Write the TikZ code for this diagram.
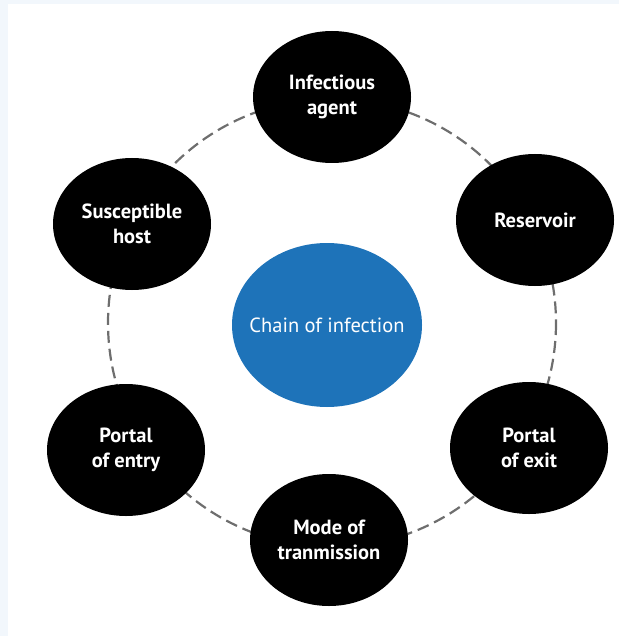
\documentclass[tikz,border=0pt]{standalone}
\usepackage{fontspec}
\setmainfont{PT Sans}
\usetikzlibrary{shapes.geometric}

\definecolor{chainblue}{RGB}{30,115,185}
\definecolor{ringgray}{RGB}{110,110,110}
\definecolor{edgeband}{RGB}{242,247,252}

\begin{document}
\begin{tikzpicture}[x=1pt, y=-1pt,
  stage/.style={ellipse, fill=black, text=white, inner xsep=-12pt, inner ysep=0pt,
    minimum width=158pt, minimum height=132pt, align=center,
    font=\fontsize{20.5}{25}\selectfont\bfseries},
  hubnode/.style={ellipse, fill=chainblue, text=white, inner xsep=-14pt, inner ysep=0pt,
    minimum width=190pt, minimum height=164pt,
    font=\fontsize{20.5}{25}\selectfont},
  ring/.style={ringgray, line width=2.2pt, dash pattern=on 12pt off 6pt}]
\useasboundingbox (0,0) rectangle (619,636);
\fill[edgeband] (0,0) rectangle (619,4);
\fill[edgeband] (0,0) rectangle (8,636);

% dashed ring behind the stages
\coordinate (hub) at (332,323);
\draw[ring] (hub) circle (224);

\node[hubnode] (chain) at (327,325) {Chain of infection};

\node[stage] (agent) at (332,97) {Infectious\\agent};
\node[stage] (reservoir) at (535,220) {Reservoir};
\node[stage] (exit) at (529,448) {Portal\\of exit};
\node[stage] (mode) at (329,540) {Mode of\\tranmission};
\node[stage] (entry) at (126,450) {Portal\\of entry};
\node[stage] (host) at (132,224) {Susceptible\\host};
\end{tikzpicture}
\end{document}
